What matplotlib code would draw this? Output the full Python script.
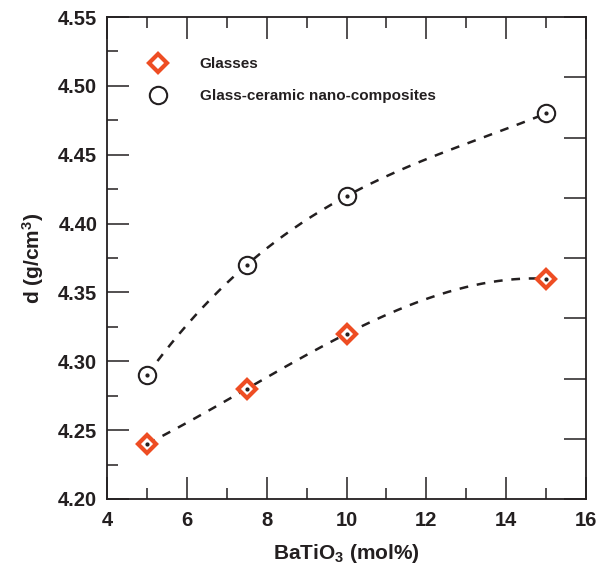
import numpy as np
import matplotlib
matplotlib.use("Agg")
import matplotlib.pyplot as plt

# BaTiO3 content (mol%) and density values
batio3 = [5, 7.5, 10, 15]
d_glasses = [4.24, 4.28, 4.32, 4.36]
d_gc = [4.29, 4.37, 4.42, 4.48]

ink = "#231f20"
orange = "#ee4d23"

plt.rcParams["font.family"] = ["Liberation Sans", "DejaVu Sans"]
plt.rcParams["font.weight"] = "bold"
plt.rcParams["axes.labelweight"] = "bold"
plt.rcParams["mathtext.fontset"] = "custom"
plt.rcParams["mathtext.bf"] = "Liberation Sans:bold"
plt.rcParams["mathtext.rm"] = "Liberation Sans:bold"
plt.rcParams["mathtext.default"] = "bf"

fig = plt.figure(figsize=(5.98, 5.68), dpi=100)
ax = fig.add_axes([0.179, 0.1215, 0.801, 0.8485])

# smooth dashed trend curves through the points
xs = np.linspace(5, 15, 200)
for yv in (d_glasses, d_gc):
    c = np.polyfit(batio3, yv, 3)
    ax.plot(xs, np.polyval(c, xs), ls=(0, (3.5, 3.5)), color=ink, lw=1.8, zorder=2)

ax.plot(batio3, d_glasses, ls="none", marker="D", ms=9, mfc="white", mec=orange,
        mew=3, zorder=3, label="Glasses")
ax.plot(batio3, d_gc, ls="none", marker="o", ms=12.5, mfc="white", mec=ink,
        mew=1.5, zorder=3, label="Glass-ceramic nano-composites")
ax.plot(batio3 + batio3, d_glasses + d_gc, ls="none", marker="o", ms=2,
        color=ink, zorder=4)

ax.set_xlim(4, 16)
ax.set_ylim(4.20, 4.55)
ax.set_xticks(np.arange(4, 17, 2))
ax.set_xticks(np.arange(5, 16, 2), minor=True)
ax.set_yticks(np.arange(4.20, 4.551, 0.05))
ax.set_yticks(np.arange(4.225, 4.55, 0.05), minor=True)
ax.set_yticklabels([f"{v:.2f}" for v in np.arange(4.20, 4.551, 0.05)])

ax.tick_params(which="both", direction="in", colors=ink, width=1.1,
               labelsize=14.5, top=True, right=False)
ax.tick_params(axis="y", pad=7)
ax.tick_params(axis="x", pad=9)
ax.tick_params(which="major", length=16)
ax.tick_params(which="minor", length=8)
for s in ax.spines.values():
    s.set_color(ink)
    s.set_linewidth(1.3)

# right-hand axis has its own evenly spaced ticks, no labels
ax2 = ax.twinx()
ax2.set_ylim(0, 8)
ax2.set_yticks(range(9))
ax2.set_yticklabels([])
ax2.tick_params(direction="in", length=16, width=1.1, colors=ink)
for s in ax2.spines.values():
    s.set_visible(False)

ax.set_xlabel(r"BaTiO$_3$ (mol%)", fontsize=15, color=ink, labelpad=8)
ax.set_ylabel(r"d (g/cm$^3$)", fontsize=15, color=ink, labelpad=9)

leg = ax.legend(loc="upper left", bbox_to_anchor=(0.045, 0.945), frameon=False,
                fontsize=11, handletextpad=1.75, labelspacing=1.15,
                labelcolor=ink, markerscale=1.0)

fig.savefig("out.png", dpi=100)
